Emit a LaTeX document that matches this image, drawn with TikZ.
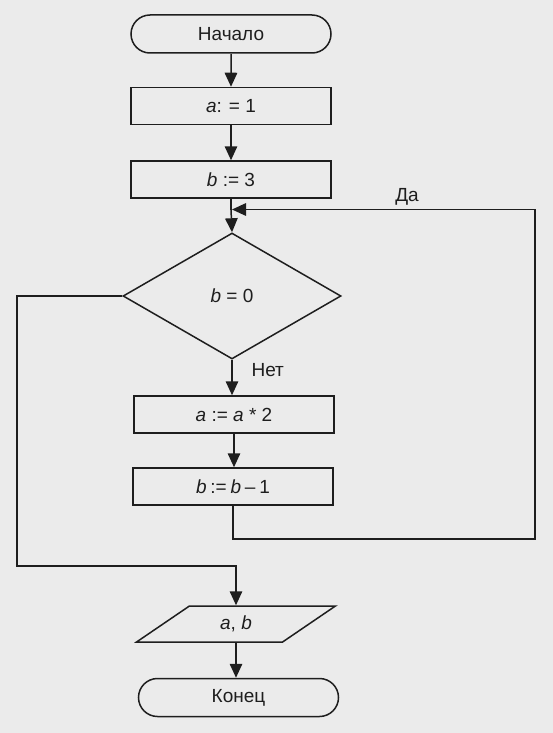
\documentclass[tikz,border=0pt]{standalone}
\usepackage{fontspec}
\setmainfont{Liberation Sans}
\usetikzlibrary{shapes.geometric,shapes.misc,arrows.meta}
\definecolor{ink}{HTML}{1E1E1E}
\definecolor{paper}{HTML}{EBEBEB}
\begin{document}
\begin{tikzpicture}[x=1pt,y=-1pt,
  every node/.style={font=\fontsize{19}{22}\selectfont, text=ink},
  line/.style={line width=1.5pt, draw=ink},
  arr/.style={line, -{Triangle[length=14pt,width=12.5pt]}},
  shapebase/.style={draw=ink, line width=1.5pt, inner sep=0pt},
  term/.style={shapebase, rounded rectangle, minimum width=200pt, minimum height=38pt},
  proc/.style={shapebase, rectangle, minimum width=200pt, minimum height=37pt},
  dec/.style={shapebase, diamond, minimum width=218pt, minimum height=126pt},
  io/.style={shapebase, trapezium, trapezium left angle=42, trapezium right angle=138,
    trapezium stretches=true, minimum width=200pt, minimum height=36pt},
  lab/.style={anchor=base}
]
\fill[paper] (0,0) rectangle (553,733);
\useasboundingbox (0,0) rectangle (553,733);

\node[term] (start) at (231,34) {Начало};
\node[proc] (p1) at (231,106) {\textit{a}: = 1};
\node[proc] (p2) at (231,179.5) {\textit{b} := 3};
\node[dec] (d) at (232,296) {\textit{b} = 0};
\node[proc] (p3) at (234,414.5) {\textit{a} := \textit{a} * 2};
\node[proc] (p4) at (233,486.5) {\textit{b}\hspace{0.2em}:=\hspace{0.2em}\textit{b}\hspace{0.2em}\textendash\hspace{0.2em}1};
\node[io] (out) at (236,624) {\textit{a}, \textit{b}};
\node[term] (end) at (238.5,697.5) {Конец};

\node[lab] (yes) at (407,201) {Да};
\node[lab, anchor=base west] (no) at (248,376.5) {Нет};

\coordinate (m) at (232,209.5);
\coordinate (rb) at (535,539);
\coordinate (rt) at (535,209.5);
\coordinate (lt) at (17,296);
\coordinate (lb) at (17,566);

\draw[arr] (start) -- (p1);
\draw[arr] (p1) -- (p2);
\draw[line] (p2.south) -- (p2.south |- m);
\draw[arr] (p2.south |- m) -- (d.north);
\draw[arr] (d.south) -- (d.south |- p3.north);
\draw[arr] (p3.south) -- (p3.south |- p4.north);
\draw[arr] (p4.south) |- (rb) -- (rt) -- (m);
\draw[arr] (d.west) -- (lt) -- (lb) -| (out.north);
\draw[arr] (out.south) -- (out.south |- end.north);
\end{tikzpicture}
\end{document}
